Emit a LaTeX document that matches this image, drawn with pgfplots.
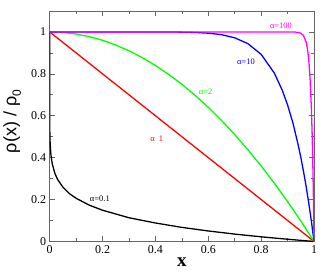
\documentclass[border=0pt]{standalone}
\usepackage{pgfplots}
\pgfplotsset{compat=1.18}
\usepackage{fontspec}
\setmainfont{Liberation Serif}
\newfontfamily\sansfont{Liberation Sans}
\definecolor{cmag}{RGB}{255,0,255}
\definecolor{cgreen}{RGB}{0,255,0}
\begin{document}
\begin{tikzpicture}
\begin{axis}[
  name=ax,
  at={(0,0)}, anchor=south west,
  scale only axis, width=265bp, height=231bp,
  xmin=0, xmax=1, ymin=0, ymax=1.1,
  xtick={0,0.2,0.4,0.6,0.8,1},
  ytick={0,0.2,0.4,0.6,0.8,1},
  xticklabels={0,0.2,0.4,0.6,0.8,1},
  yticklabels={0,0.2,0.4,0.6,0.8,1},
  minor x tick num=1, minor y tick num=1,
  tick align=inside,
  major tick length=5bp, minor tick length=3bp,
  tick style={color=black!60, line width=0.6pt},
  axis line style={color=black!60, line width=0.8pt},
  tick label style={font=\fontsize{12bp}{13bp}\selectfont},
  xticklabel style={yshift=-0.5bp},
  yticklabel style={xshift=0bp},
  xlabel={\textbf{x}},
  xlabel style={font=\fontsize{19bp}{20bp}\selectfont, at={(axis description cs:0.5,-0.091)}, anchor=center},
  ylabel={\sansfont ρ(x) / ρ\raisebox{-0.25em}{\fontsize{12bp}{12bp}\selectfont 0}},
  ylabel style={font=\fontsize{18bp}{19bp}\selectfont, at={(axis description cs:-0.142,0.52)}, anchor=center},
  clip=true,
  every axis plot/.append style={line width=1.3pt},
]
% alpha = 0.1
\addplot[black] coordinates {
(0,1) (0,0.9) (0,0.842) (0.000001,0.749) (0.00001,0.684) (0.0001,0.602) (0.0003,0.556)
(0.001,0.499) (0.002,0.463) (0.005,0.411) (0.01,0.369) (0.02,0.324) (0.03,0.296)
(0.05,0.259) (0.075,0.228) (0.1,0.206) (0.15,0.173) (0.2,0.149) (0.3,0.113)
(0.4,0.088) (0.5,0.067) (0.6,0.050) (0.7,0.035) (0.8,0.022) (0.9,0.0105) (0.95,0.0051) (1,0)
};
% alpha = 1
\addplot[red] coordinates {(0,1) (1,0)};
% alpha = 2
\addplot[cgreen] coordinates {
(0,1) (0.05,0.9975) (0.1,0.99) (0.15,0.9775) (0.2,0.96) (0.25,0.9375) (0.3,0.91)
(0.35,0.8775) (0.4,0.84) (0.45,0.7975) (0.5,0.75) (0.55,0.6975) (0.6,0.64)
(0.65,0.5775) (0.7,0.51) (0.75,0.4375) (0.8,0.36) (0.85,0.2775) (0.9,0.19)
(0.95,0.0975) (1,0)
};
% alpha = 10
\addplot[blue] coordinates {
(0,1) (0.4,0.9999) (0.5,0.999) (0.55,0.9975) (0.6,0.994) (0.65,0.987) (0.7,0.972)
(0.75,0.944) (0.8,0.893) (0.85,0.803) (0.88,0.721) (0.9,0.651) (0.92,0.566)
(0.94,0.461) (0.95,0.401) (0.96,0.335) (0.97,0.263) (0.98,0.183) (0.99,0.096) (1,0)
};
% alpha = 100
\addplot[cmag] coordinates {
(0,1) (0.9,1.0) (0.93,0.9993) (0.95,0.9941) (0.96,0.983) (0.97,0.952) (0.975,0.9205)
(0.98,0.867) (0.985,0.779) (0.99,0.634) (0.993,0.505) (0.995,0.394) (0.997,0.2595)
(0.998,0.181) (0.999,0.095) (1,0)
};
\node[font=\fontsize{8.5bp}{9bp}\selectfont, text=black] at (axis cs:0.19,0.205) {α=0.1};
\node[font=\fontsize{8.5bp}{9bp}\selectfont, text=red] at (axis cs:0.405,0.49) {α\,\,\,1};
\node[font=\fontsize{8.5bp}{9bp}\selectfont, text=cgreen] at (axis cs:0.59,0.714) {α=2};
\node[font=\fontsize{8.5bp}{9bp}\selectfont, text=blue] at (axis cs:0.743,0.857) {α=10};
\node[font=\fontsize{8.5bp}{9bp}\selectfont, text=cmag] at (axis cs:0.875,1.03) {α=100};
\end{axis}
\path (-49bp,-31bp) rectangle (282bp,242bp);
\end{tikzpicture}
\end{document}
